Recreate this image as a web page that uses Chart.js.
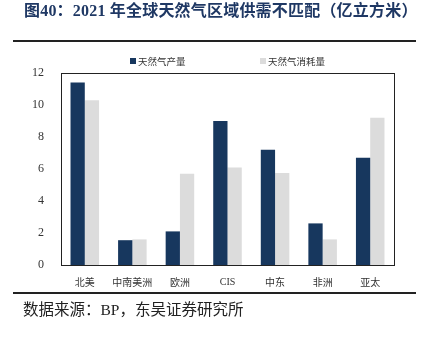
<!DOCTYPE html>
<html>
<head>
<meta charset="utf-8">
<script src="https://cdn.jsdelivr.net/npm/chart.js@4"></script>
<style>
  body { margin: 0; background: #fff; }
  #wrap { position: relative; width: 421px; height: 337px; overflow: hidden; }
  #title { position: absolute; left: 24px; top: 0px; font: bold 16px "Liberation Serif", "Noto Sans CJK SC"; color: #1f3864; white-space: nowrap; line-height: 22px; letter-spacing: 0.2px; }
  .rule { position: absolute; left: 13px; width: 403px; height: 2px; background: #222; }
  #source { position: absolute; left: 23px; top: 300px; font: 15.5px "Liberation Serif", "Noto Sans CJK SC"; color: #222; white-space: nowrap; line-height: 20px; }
  canvas { position: absolute; left: 0; top: 0; }
</style>
</head>
<body>
<div id="wrap">
  <canvas id="chart" width="421" height="337"></canvas>
  <div id="title">图40：2021 年全球天然气区域供需不匹配（亿立方米）</div>
  <div class="rule" style="top:40px"></div>
  <div class="rule" style="top:292px"></div>
  <div id="source">数据来源：BP，东吴证券研究所</div>
</div>
<script>
// data
const regions = ['北美', '中南美洲', '欧洲', 'CIS', '中东', '非洲', '亚太'];
const production = [11.4, 1.55, 2.1, 9.0, 7.2, 2.6, 6.7];
const consumption = [10.3, 1.6, 5.7, 6.1, 5.75, 1.6, 9.2];
const yTicks = [0, 2, 4, 6, 8, 10, 12];

const cjk = '"Noto Sans CJK SC"';
const serif = '"Liberation Serif"';

// box around plot + simple legend on top
const framePlugin = {
  id: 'frame',
  afterDraw(chart) {
    const ctx = chart.ctx;
    const a = chart.chartArea;
    ctx.save();
    ctx.strokeStyle = '#222';
    ctx.lineWidth = 1;
    ctx.strokeRect(a.left + 0.5, a.top + 0.5, a.right - a.left, a.bottom - a.top);

    const xs = [130, 260];
    const y = 61;
    ctx.font = '9.5px ' + cjk;
    ctx.textBaseline = 'middle';
    chart.data.datasets.forEach((ds, i) => {
      ctx.fillStyle = ds.backgroundColor;
      ctx.fillRect(xs[i], y - 3, 6, 6);
      ctx.fillStyle = '#333';
      ctx.fillText(ds.label, xs[i] + 8, y);
    });
    ctx.restore();
  }
};

new Chart(document.getElementById('chart'), {
  type: 'bar',
  data: {
    labels: regions,
    datasets: [
      { label: '天然气产量', data: production, backgroundColor: '#17375e' },
      { label: '天然气消耗量', data: consumption, backgroundColor: '#dcdcdc' }
    ]
  },
  options: {
    responsive: false,
    animation: false,
    layout: { padding: { left: 0, right: 27, top: 73, bottom: 42 } },
    plugins: { legend: { display: false }, tooltip: { enabled: false } },
    datasets: { bar: { categoryPercentage: 0.6, barPercentage: 1.0 } },
    scales: {
      x: {
        grid: { display: false },
        border: { display: false },
        ticks: {
          color: '#333',
          padding: 3,
          maxRotation: 0,
          font: ctx => ({ family: ctx.tick && ctx.tick.label === 'CIS' ? serif : cjk, size: 10 })
        },
        afterFit(scale) { scale.height = 30; }
      },
      y: {
        min: 0,
        max: 12,
        grid: { display: false },
        border: { display: false },
        afterBuildTicks(scale) { scale.ticks = yTicks.map(v => ({ value: v })); },
        ticks: { color: '#333', padding: 9, font: { family: serif, size: 12 } },
        afterFit(scale) { scale.width = 61; }
      }
    }
  },
  plugins: [framePlugin]
});
</script>
</body>
</html>
